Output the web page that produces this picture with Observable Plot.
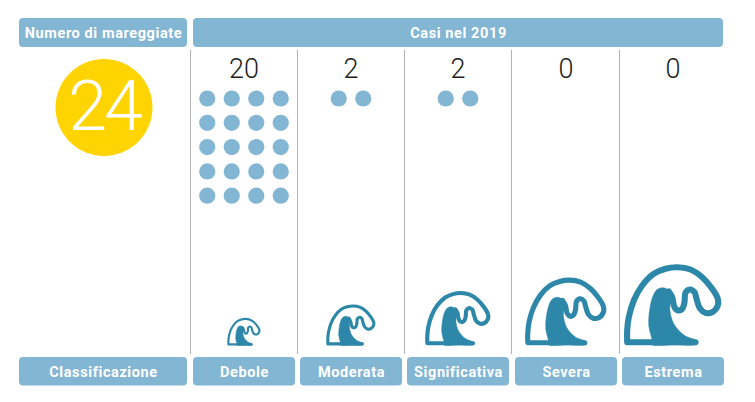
<!DOCTYPE html>
<html><head><meta charset="utf-8">
<style>html,body{margin:0;padding:0;background:#fff}svg{display:block}
.bar-label text,text.bar-label,g.bar-label{letter-spacing:0.6px}
.big-number text,g.big-number{letter-spacing:-3px}
</style>
<script src="https://cdn.jsdelivr.net/npm/d3@7"></script>
<script src="https://cdn.jsdelivr.net/npm/@observablehq/plot@0.6"></script>
</head><body><div id="chart"></div>
<script>
const categories = ["Debole","Moderata","Significativa","Severa","Estrema"];
const counts = [20,2,2,0,0];
const total = 24;
const headLeft = "Numero di mareggiate";
const headRight = "Casi nel 2019";
const footLeft = "Classificazione";
const waveScale = [0.34,0.505,0.67,0.835,1];

// icon outlines, in the units of the largest icon
const waveOutline = [[71,3.3],[2.7,3.3],[2.7,3.3],[2.7,15],[4.3,28.3],[9.3,45],[17.7,60],[29.3,71.7],[41,76.7],[52.7,78.3],[66,76],[77.7,68.3],[87.7,56.7],[93.3,46.7],[93.3,40],[87.7,33.3],[81,32.7],[75.3,37.3],[72,46.7],[70,53.3],[65.3,56],[61,52.7],[60,43.3],[57.7,36.7],[53.7,35],[50,38.3],[47.7,48.3],[44.3,54]];
const waveCrest = [[27.7,5],[24.3,20],[25.3,36.7],[28.7,50],[32.7,56],[38.7,57.7],[44.3,55],[47,48.3],[45.3,36.7],[49.3,21.7],[60,10],[72,5],[73.3,2.3],[71,0.7],[50,0.7],[27.7,0.7],[27.7,3]];

// layout
const colLeft = [193,300,407,515,622], colW = 102;
const gutter = [190,297,404,511,619];
const baseY = 345, dotX = 24.5, dotY = 24.3, dotsPerRow = 4;
const blue = "#83b6d3", teal = "#2c87a9", yellow = "#ffd400", ink = "#1d1d1b";
const font = "Roboto, sans-serif";

const cols = categories.map((c,i)=>({c,i,x1:colLeft[i],x2:colLeft[i]+colW,cx:colLeft[i]+colW/2-0.5,n:counts[i],s:waveScale[i]}));
const dots = cols.flatMap(col=>d3.range(col.n).map(k=>{
  const r=Math.floor(k/dotsPerRow), inRow=Math.min(dotsPerRow,col.n-r*dotsPerRow), p=k%dotsPerRow;
  return {x:col.cx+(p-(inRow-1)/2)*dotX, y:98+r*dotY};
}));
const bars = [
  {x1:19,x2:187,y1:18,y2:47,t:headLeft},
  {x1:193,x2:723,y1:18,y2:47,t:headRight},
  {x1:19,x2:187,y1:357,y2:385.5,t:footLeft},
  ...cols.map(c=>({x1:c.x1,x2:c.x2,y1:357,y2:385.5,t:c.c}))
];
const W=97;
const waveMarks = cols.flatMap(col=>{
  const place=([u,v])=>({x:col.cx-W*col.s/2+u*col.s,y:baseY-v*col.s});
  return [
    Plot.line(waveOutline.map(place),{x:"x",y:"y",curve:"catmull-rom",stroke:teal,strokeWidth:6*col.s+0.1,strokeLinejoin:"round",strokeLinecap:"round"}),
    Plot.line(waveCrest.map(place),{x:"x",y:"y",curve:"catmull-rom-closed",fill:teal,stroke:teal,strokeWidth:0.5})
  ];
});

const chart = Plot.plot({
  width:755,height:402,margin:0,
  x:{domain:[0,755],range:[0,755],axis:null},
  y:{domain:[0,402],range:[0,402],axis:null},
  style:{background:"#fff"},
  marks:[
    Plot.ruleX(gutter,{x:d=>d,y1:50,y2:354,stroke:"#b2b2b2",strokeWidth:1}),
    Plot.rect(bars,{x1:"x1",x2:"x2",y1:"y1",y2:"y2",fill:blue,rx:4}),
    Plot.text(bars,{x:d=>(d.x1+d.x2)/2,y:d=>(d.y1+d.y2)/2+0.5,text:"t",fill:"#fff",fontFamily:font,fontWeight:700,fontSize:14.5,className:"bar-label"}),
    Plot.dot([total],{x:()=>103.5,y:()=>107,r:48.5,fill:yellow}),
    Plot.text([total],{x:()=>103.5,y:()=>107.5,text:d=>String(d),fill:"#fff",fontFamily:font,fontWeight:300,fontSize:70,className:"big-number"}),
    Plot.text(cols,{x:"cx",y:()=>69,text:d=>String(d.n),fill:ink,fontFamily:font,fontWeight:300,fontSize:27}),
    Plot.dot(dots,{x:"x",y:"y",r:8.1,fill:blue}),
    ...waveMarks
  ]
});
document.getElementById("chart").append(chart);
</script></body></html>
